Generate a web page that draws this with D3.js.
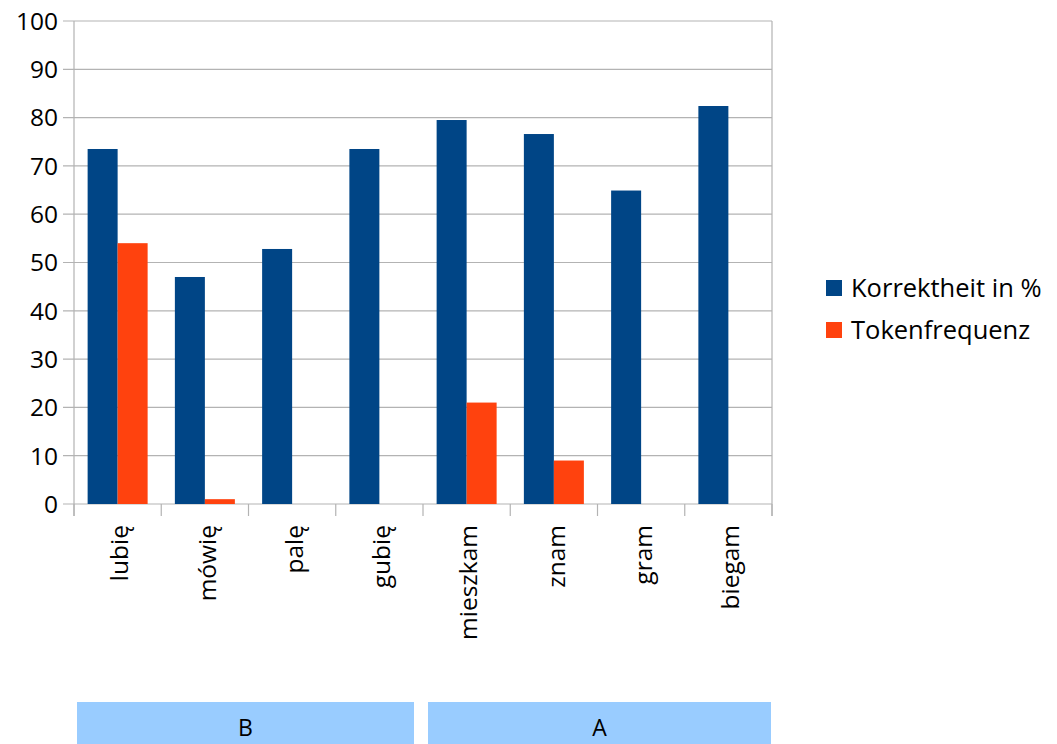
<!DOCTYPE html>
<html><head><meta charset="utf-8">
<script src="https://cdn.jsdelivr.net/npm/d3@7"></script>
<style>body{margin:0;background:#fff}svg{display:block}text{font-family:"Open Sans",sans-serif;fill:#000}</style>
</head><body><svg id="c" width="1057" height="744"></svg>
<script>
const categories = ["lubię","mówię","palę","gubię","mieszkam","znam","gram","biegam"];
const korrektheit = [73.5,47,52.8,73.5,79.5,76.6,64.9,82.4];
const tokenfrequenz = [54,1,0,0,21,9,0,0];
const seriesNames = ["Korrektheit in %","Tokenfrequenz"];
const colors = ["#004586","#ff420e"];
const yTicks = [0,10,20,30,40,50,60,70,80,90,100];
const groups = [{label:"B",from:0,to:3},{label:"A",from:4,to:7}];

const svg = d3.select("#c");
const L=74,R=772,T=21,B=504;
const x = d3.scaleBand().domain(categories).range([L,R]).padding(0);
const y = d3.scaleLinear().domain([0,100]).range([B,T]);
const inner = d3.scaleBand().domain([0,1]).range([0,60]);
const off = (x.bandwidth()-60)/2;
const grid="#b3b3b3";

svg.append("g").selectAll("line").data(yTicks).join("line")
  .attr("x1",L-11).attr("x2",R).attr("y1",d=>y(d)).attr("y2",d=>y(d))
  .attr("stroke",grid).attr("stroke-width",1.2);
svg.append("g").selectAll("text").data(yTicks).join("text")
  .attr("x",58).attr("y",d=>y(d)).attr("dy","0.36em").attr("text-anchor","end")
  .attr("font-size",24.5).text(d=>d);
svg.append("line").attr("x1",L).attr("x2",L).attr("y1",T).attr("y2",B+12).attr("stroke",grid).attr("stroke-width",1.2);
svg.append("line").attr("x1",R).attr("x2",R).attr("y1",T).attr("y2",B+12).attr("stroke",grid).attr("stroke-width",1.2);
const bounds = categories.map(c=>x(c)).concat([R]);
svg.append("g").selectAll("line").data(bounds).join("line")
  .attr("x1",d=>d).attr("x2",d=>d).attr("y1",B).attr("y2",B+12).attr("stroke",grid).attr("stroke-width",1.2);

const data = categories.map((c,i)=>({c,v:[korrektheit[i],tokenfrequenz[i]]}));
const g = svg.append("g").selectAll("g").data(data).join("g").attr("transform",d=>`translate(${x(d.c)+off},0)`);
g.selectAll("rect").data(d=>d.v.map((v,k)=>({v,k})).filter(e=>e.v>0)).join("rect")
  .attr("x",d=>inner(d.k)).attr("width",inner.bandwidth())
  .attr("y",d=>y(d.v)).attr("height",d=>B-y(d.v)).attr("fill",d=>colors[d.k]);

svg.append("g").selectAll("text").data(categories).join("text")
  .attr("transform",c=>`translate(${x(c)+x.bandwidth()/2+2},525) rotate(-90)`)
  .attr("dy","0.36em").attr("text-anchor","end").attr("font-size",24.5).text(c=>c);

const gx0 = d => d.from ? x(categories[d.from])+5 : x(categories[d.from])+3;
const gx1 = d => d.from ? x(categories[d.to])+x.bandwidth()-1 : x(categories[d.to])+x.bandwidth()-9;
const gg = svg.append("g").selectAll("g").data(groups).join("g");
gg.append("rect").attr("x",gx0).attr("y",702)
  .attr("width",d=>gx1(d)-gx0(d)).attr("height",42).attr("fill","#99ccff");
gg.append("text").attr("x",d=>(gx0(d)+gx1(d))/2)
  .attr("y",736).attr("text-anchor","middle").attr("font-size",23).text(d=>d.label);

const lg = svg.append("g").selectAll("g").data(seriesNames).join("g").attr("transform",(d,i)=>`translate(826,${280+i*42})`);
lg.append("rect").attr("width",16).attr("height",16).attr("fill",(d,i)=>colors[i]);
lg.append("text").attr("x",25).attr("y",8).attr("dy","0.36em").attr("font-size",25.5).text(d=>d);
</script></body></html>
